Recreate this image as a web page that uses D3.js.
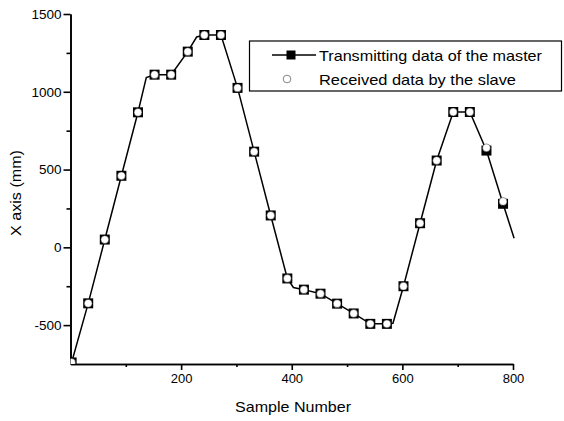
<!DOCTYPE html>
<html>
<head>
<meta charset="utf-8">
<script src="https://cdn.jsdelivr.net/npm/d3@7"></script>
<style>
  body { margin: 0; background: #fff; }
  svg { display: block; font-family: "Liberation Sans", Arial, sans-serif; }
  .eje path, .eje line { stroke: #000; stroke-width: 1.6; }
  .eje text { fill: #000; }
  .ejeX text { font-size: 13px; }
  .ejeY text { font-size: 13.5px; }
</style>
</head>
<body>
<div id="grafica"></div>
<script>
// Datos (muestra -> posicion X en mm)
var muestras   = [2, 32, 62, 92, 122, 152, 182, 212, 242, 272, 302, 332, 362, 392, 422, 452, 482, 512, 542, 572, 602, 632, 662, 692, 722, 752, 782]
var maestro    = [-740, -360, 50, 460, 868, 1110, 1110, 1258, 1365, 1365, 1025, 615, 205, -200, -272, -298, -362, -425, -492, -492, -250, 155, 558, 870, 870, 622, 280]
var esclavo    = [-740, -360, 50, 460, 868, 1110, 1110, 1258, 1365, 1365, 1025, 615, 205, -200, -272, -298, -362, -425, -492, -492, -250, 155, 558, 870, 870, 640, 295]
// La linea del maestro tiene mas puntos que los marcadores (quiebres vistos en la figura)
var lineaMuestra = [2, 32, 62, 92, 122, 137, 152, 182, 212, 228, 242, 272, 302, 332, 362, 392, 403, 422, 452, 482, 512, 542, 572, 583, 602, 632, 662, 692, 722, 752, 782, 802]
var lineaValor   = [-740, -360, 50, 460, 868, 1092, 1110, 1110, 1258, 1352, 1365, 1365, 1025, 615, 205, -200, -258, -272, -298, -362, -425, -492, -492, -488, -250, 155, 558, 870, 870, 622, 280, 58]

var ticksX = [200, 400, 600, 800]
var ticksXmenor = [100, 300, 500, 700]
var ticksY = [-500, 0, 500, 1000, 1500]
var ticksYmenor = [-250, 250, 750, 1250]

var leyenda = ["Transmitting data of the master", "Received data by the slave"]

var width = 564, height = 421
var margin = {top: 14, right: 51, bottom: 57, left: 70.5}

var escalaX = d3.scaleLinear()
    .domain([0, 800])
    .range([margin.left, width - margin.right])

var escalaY = d3.scaleLinear()
    .domain([-750, 1500])
    .range([height - margin.bottom, margin.top])

var svg = d3.select("#grafica")
    .append("svg")
    .attr("width", width)
    .attr("height", height)

// zona de dibujo (recorta el primer marcador en la esquina)
svg.append("clipPath")
    .attr("id", "recorte")
    .append("rect")
    .attr("x", margin.left)
    .attr("y", 0)
    .attr("width", width - margin.left)
    .attr("height", height - margin.bottom)

//Ejes (etiquetas con guion normal, sin separador de miles)
var formato = d => String(d)
var ejeX = d3.axisBottom(escalaX).tickValues(ticksX).tickSize(6).tickSizeOuter(0).tickPadding(4).tickFormat(formato)
var ejeXmenor = d3.axisBottom(escalaX).tickValues(ticksXmenor).tickSize(3).tickSizeOuter(0).tickFormat("")
var ejeY = d3.axisLeft(escalaY).tickValues(ticksY).tickSize(7).tickSizeOuter(0).tickPadding(2).tickFormat(formato)
var ejeYmenor = d3.axisLeft(escalaY).tickValues(ticksYmenor).tickSize(4).tickSizeOuter(0).tickFormat("")

svg.append("g").attr("class", "eje ejeX")
    .attr("transform", "translate(0," + escalaY(-750) + ")")
    .call(ejeX)
svg.append("g").attr("class", "eje")
    .attr("transform", "translate(0," + escalaY(-750) + ")")
    .call(ejeXmenor)
svg.append("g").attr("class", "eje ejeY")
    .attr("transform", "translate(" + escalaX(0) + ",0)")
    .call(ejeY)
svg.append("g").attr("class", "eje")
    .attr("transform", "translate(" + escalaX(0) + ",0)")
    .call(ejeYmenor)

//Titulos de ejes (la fuente del original es algo mas ancha)
svg.append("text")
    .attr("x", 293)
    .attr("y", 412)
    .attr("text-anchor", "middle")
    .attr("textLength", 116)
    .attr("lengthAdjust", "spacingAndGlyphs")
    .style("font-size", "15px")
    .text("Sample Number")

svg.append("text")
    .attr("transform", "translate(21," + 193 + ") rotate(-90)")
    .attr("text-anchor", "middle")
    .attr("textLength", 86)
    .attr("lengthAdjust", "spacingAndGlyphs")
    .style("font-size", "15px")
    .text("X axis (mm)")

//Linea y marcadores
var datosLinea = lineaMuestra.map((m, i) => [m, lineaValor[i]])
var linea = d3.line()
    .x(d => escalaX(d[0]))
    .y(d => escalaY(d[1]))

var zona = svg.append("g").attr("clip-path", "url(#recorte)")

zona.append("path")
    .attr("d", linea(datosLinea))
    .attr("fill", "none")
    .attr("stroke", "#000")
    .attr("stroke-width", 1.5)

var lado = 10
zona.append("g")
    .selectAll("rect")
    .data(muestras).enter()
    .append("rect")
    .attr("x", (d, i) => escalaX(d) - lado / 2)
    .attr("y", (d, i) => escalaY(maestro[i]) - lado / 2)
    .attr("width", lado)
    .attr("height", lado)
    .attr("fill", "#000")

zona.append("g")
    .selectAll("circle")
    .data(muestras).enter()
    .append("circle")
    .attr("cx", d => escalaX(d))
    .attr("cy", (d, i) => escalaY(esclavo[i]))
    .attr("r", 3.9)
    .attr("fill", "#fff")
    .attr("stroke", "#000")
    .attr("stroke-width", 0.4)

//Leyenda
var ley = svg.append("g")
ley.append("rect")
    .attr("x", 249.5)
    .attr("y", 41)
    .attr("width", 312)
    .attr("height", 50)
    .attr("fill", "#fff")
    .attr("stroke", "#000")
    .attr("stroke-width", 1.2)

ley.append("line")
    .attr("x1", 272).attr("x2", 316)
    .attr("y1", 55).attr("y2", 55)
    .attr("stroke", "#000").attr("stroke-width", 1.5)
ley.append("rect")
    .attr("x", 291 - 4.5).attr("y", 55 - 4.5)
    .attr("width", 9).attr("height", 9)
    .attr("fill", "#000")
ley.append("circle")
    .attr("cx", 287).attr("cy", 79)
    .attr("r", 3.8)
    .attr("fill", "#fff")
    .attr("stroke", "#777")
    .attr("stroke-width", 0.9)

var anchos = [223, 197]
ley.selectAll("text")
    .data(leyenda).enter()
    .append("text")
    .attr("x", 319)
    .attr("y", (d, i) => 60.5 + i * 24)
    .attr("textLength", (d, i) => anchos[i])
    .attr("lengthAdjust", "spacingAndGlyphs")
    .style("font-size", "15px")
    .text(d => d)
</script>
</body>
</html>
